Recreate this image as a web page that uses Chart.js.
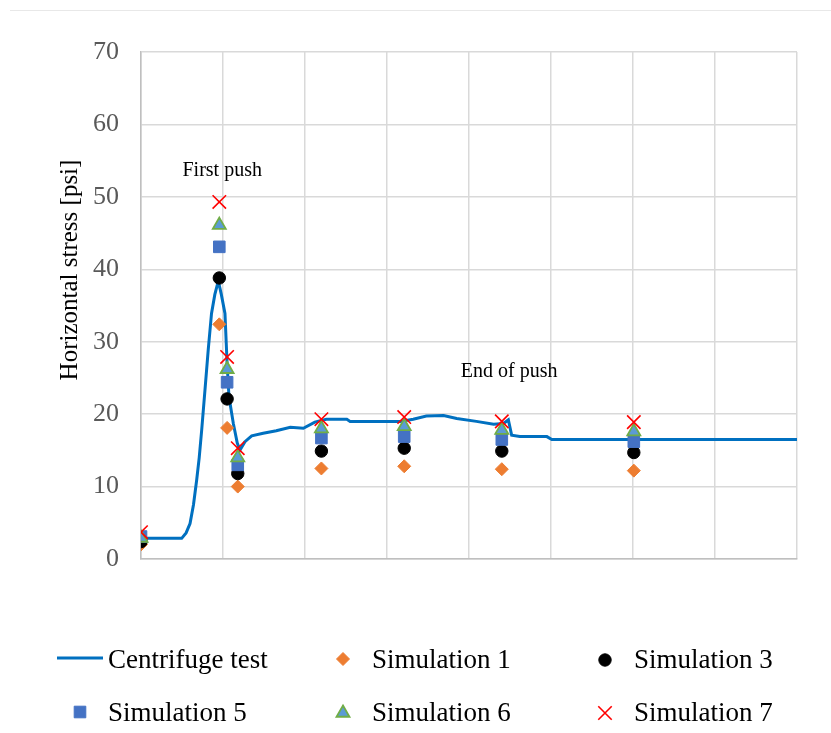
<!DOCTYPE html>
<html>
<head>
<meta charset="utf-8">
<script src="https://cdn.jsdelivr.net/npm/chart.js@4"></script>
<style>
  body{ margin:0; background:#fff; }
  #wrap{ position:relative; width:831px; height:733px; }
  #topline{ position:absolute; left:10px; top:10px; right:0; height:1px; background:#e8e8e8; }
  canvas{ position:absolute; left:0; top:0; }
</style>
</head>
<body>
<div id="wrap">
  <div id="topline"></div>
  <canvas id="chart" width="831" height="733"></canvas>
</div>
<script>
/* DATA */
// centrifuge test trace
const testX = [0, 4.96, 5.5, 5.98, 6.4, 6.79, 7.1, 7.4, 7.8, 8.2, 8.6, 9.0, 9.43, 9.8, 10.24, 10.5, 10.73, 11.26, 11.74, 12.07, 12.68, 13.5, 14.9, 16.5, 18.2, 19.8, 21.2, 22.6, 25.1, 25.5, 31.6, 33.2, 34.8, 36.9, 38.5, 40.9, 43.0, 44.2, 44.8, 45.2, 46.2, 49.5, 50.1, 80];
const testY = [2.85, 2.85, 3.6, 4.9, 7.5, 10.9, 14, 17.8, 23.3, 28.9, 33.9, 36.5, 38.4, 36.5, 33.9, 27, 22.4, 18.7, 16, 15.05, 16.2, 17.0, 17.35, 17.7, 18.2, 18.05, 18.9, 19.3, 19.3, 19.0, 19.0, 19.3, 19.75, 19.8, 19.4, 19.0, 18.6, 18.7, 19.2, 17.1, 16.9, 16.9, 16.5, 16.5];

// simulation sample positions
const simX = [0, 9.55, 10.5, 11.8, 22.0, 32.1, 44.0, 60.1];
const sim1 = [2.0, 32.4, 18.1, 10.0, 12.5, 12.8, 12.4, 12.2];
const sim3 = [2.4, 38.8, 22.1, 11.8, 14.9, 15.3, 14.9, 14.7];
const sim5 = [3.1, 43.1, 24.4, 13.0, 16.7, 16.9, 16.5, 16.2];
const sim6 = [2.9, 46.1, 26.2, 14.0, 18.0, 18.3, 17.8, 17.6];
const sim7 = [3.7, 49.3, 27.9, 15.3, 19.3, 19.6, 19.0, 18.9];

const yTicks = [0, 10, 20, 30, 40, 50, 60, 70];

const notes = [
  { text: "First push", x: 9.9, y: 53.6 },
  { text: "End of push", x: 44.9, y: 25.8 }
];

/* HELPERS */
const pts = (xs, ys) => xs.map((x, i) => ({ x, y: ys[i] }));
const SERIF = "'Liberation Serif', 'Times New Roman', serif";

const datasets = [
  { label:"Centrifuge test", data:pts(testX, testY), showLine:true, borderColor:"#0070C0", borderWidth:3, pointRadius:0, order:7, tension:0 },
  { label:"Simulation 1", data:pts(simX, sim1), pointStyle:"rectRot", pointRadius:6.5, backgroundColor:"#ED7D31", borderColor:"#ED7D31", borderWidth:1, order:6 },
  { label:"Simulation 3", data:pts(simX, sim3), pointStyle:"circle", pointRadius:6.2, backgroundColor:"#000000", borderColor:"#000000", borderWidth:1, order:5 },
  { label:"Simulation 5", data:pts(simX, sim5), pointStyle:"rect", pointRadius:8.2, backgroundColor:"#4472C4", borderColor:"#4472C4", borderWidth:1, order:4 },
  { label:"Simulation 6", data:pts(simX, sim6), pointStyle:"triangle", pointRadius:7.5, backgroundColor:"#5B9BD5", borderColor:"#70AD47", borderWidth:1.8, order:3 },
  { label:"Simulation 7", data:pts(simX, sim7), pointStyle:"crossRot", pointRadius:9.5, backgroundColor:"#FF0000", borderColor:"#FF0000", borderWidth:1.6, order:2 }
];

/* LEGEND + TEXT PLUGIN */
const legendSlots = [
  { ds:0, mx:80,  my:658, tx:108, ty:668 },
  { ds:1, mx:343, my:659, tx:372, ty:668 },
  { ds:2, mx:605, my:660, tx:634, ty:668 },
  { ds:3, mx:80,  my:712, tx:108, ty:721 },
  { ds:4, mx:343, my:713, tx:372, ty:721 },
  { ds:5, mx:605, my:713, tx:634, ty:721 }
];

const extras = {
  id:"extras",
  afterDraw(chart){
    const ctx = chart.ctx, xs = chart.scales.x, ys = chart.scales.y;
    ctx.save();
    // notes
    ctx.fillStyle = "#000";
    ctx.font = "20px " + SERIF;
    ctx.textAlign = "center"; ctx.textBaseline = "middle";
    notes.forEach(n => ctx.fillText(n.text, xs.getPixelForValue(n.x), ys.getPixelForValue(n.y)));

    // y title
    ctx.save();
    ctx.translate(70, 270);
    ctx.rotate(-Math.PI/2);
    ctx.font = "25px " + SERIF;
    ctx.fillText("Horizontal stress [psi]", 0, 0);
    ctx.restore();

    // legend
    ctx.font = "27px " + SERIF;
    ctx.textAlign = "left"; ctx.textBaseline = "alphabetic";
    legendSlots.forEach(s => {
      const d = chart.data.datasets[s.ds];
      if (d.showLine) {
        ctx.strokeStyle = d.borderColor; ctx.lineWidth = 3;
        ctx.beginPath(); ctx.moveTo(57, s.my); ctx.lineTo(103, s.my); ctx.stroke();
      } else {
        ctx.fillStyle = d.backgroundColor; ctx.strokeStyle = d.borderColor; ctx.lineWidth = d.borderWidth;
        Chart.helpers.drawPoint(ctx, { pointStyle:d.pointStyle, radius:d.pointRadius, borderWidth:d.borderWidth, rotation:0 }, s.mx, s.my);
      }
      ctx.fillStyle = "#000";
      ctx.fillText(d.label, s.tx, s.ty);
    });
    ctx.restore();
  }
};

/* CHART */
new Chart(document.getElementById("chart"), {
  type:"scatter",
  data:{ datasets },
  options:{
    responsive:false,
    animation:false,
    layout:{ padding:{ top:52, right:34, bottom:174, left:0 } },
    plugins:{ legend:{ display:false }, tooltip:{ enabled:false } },
    scales:{
      x:{
        type:"linear", min:0, max:80,
        ticks:{ display:false, stepSize:10 },
        grid:{ color:"#d9d9d9", lineWidth:1.5, drawTicks:false },
        border:{ color:"#bfbfbf", width:1.5 },
        afterFit(s){ s.height = 0; }
      },
      y:{
        type:"linear", min:0, max:70,
        afterBuildTicks(s){ s.ticks = yTicks.map(v => ({ value:v })); },
        ticks:{ color:"#595959", padding:22, font:{ family:SERIF, size:26 } },
        grid:{ color:"#d9d9d9", lineWidth:1.5, drawTicks:false },
        border:{ color:"#bfbfbf", width:1.5 },
        afterFit(s){ s.width = 141; }
      }
    }
  },
  plugins:[extras]
});
</script>
</body>
</html>
